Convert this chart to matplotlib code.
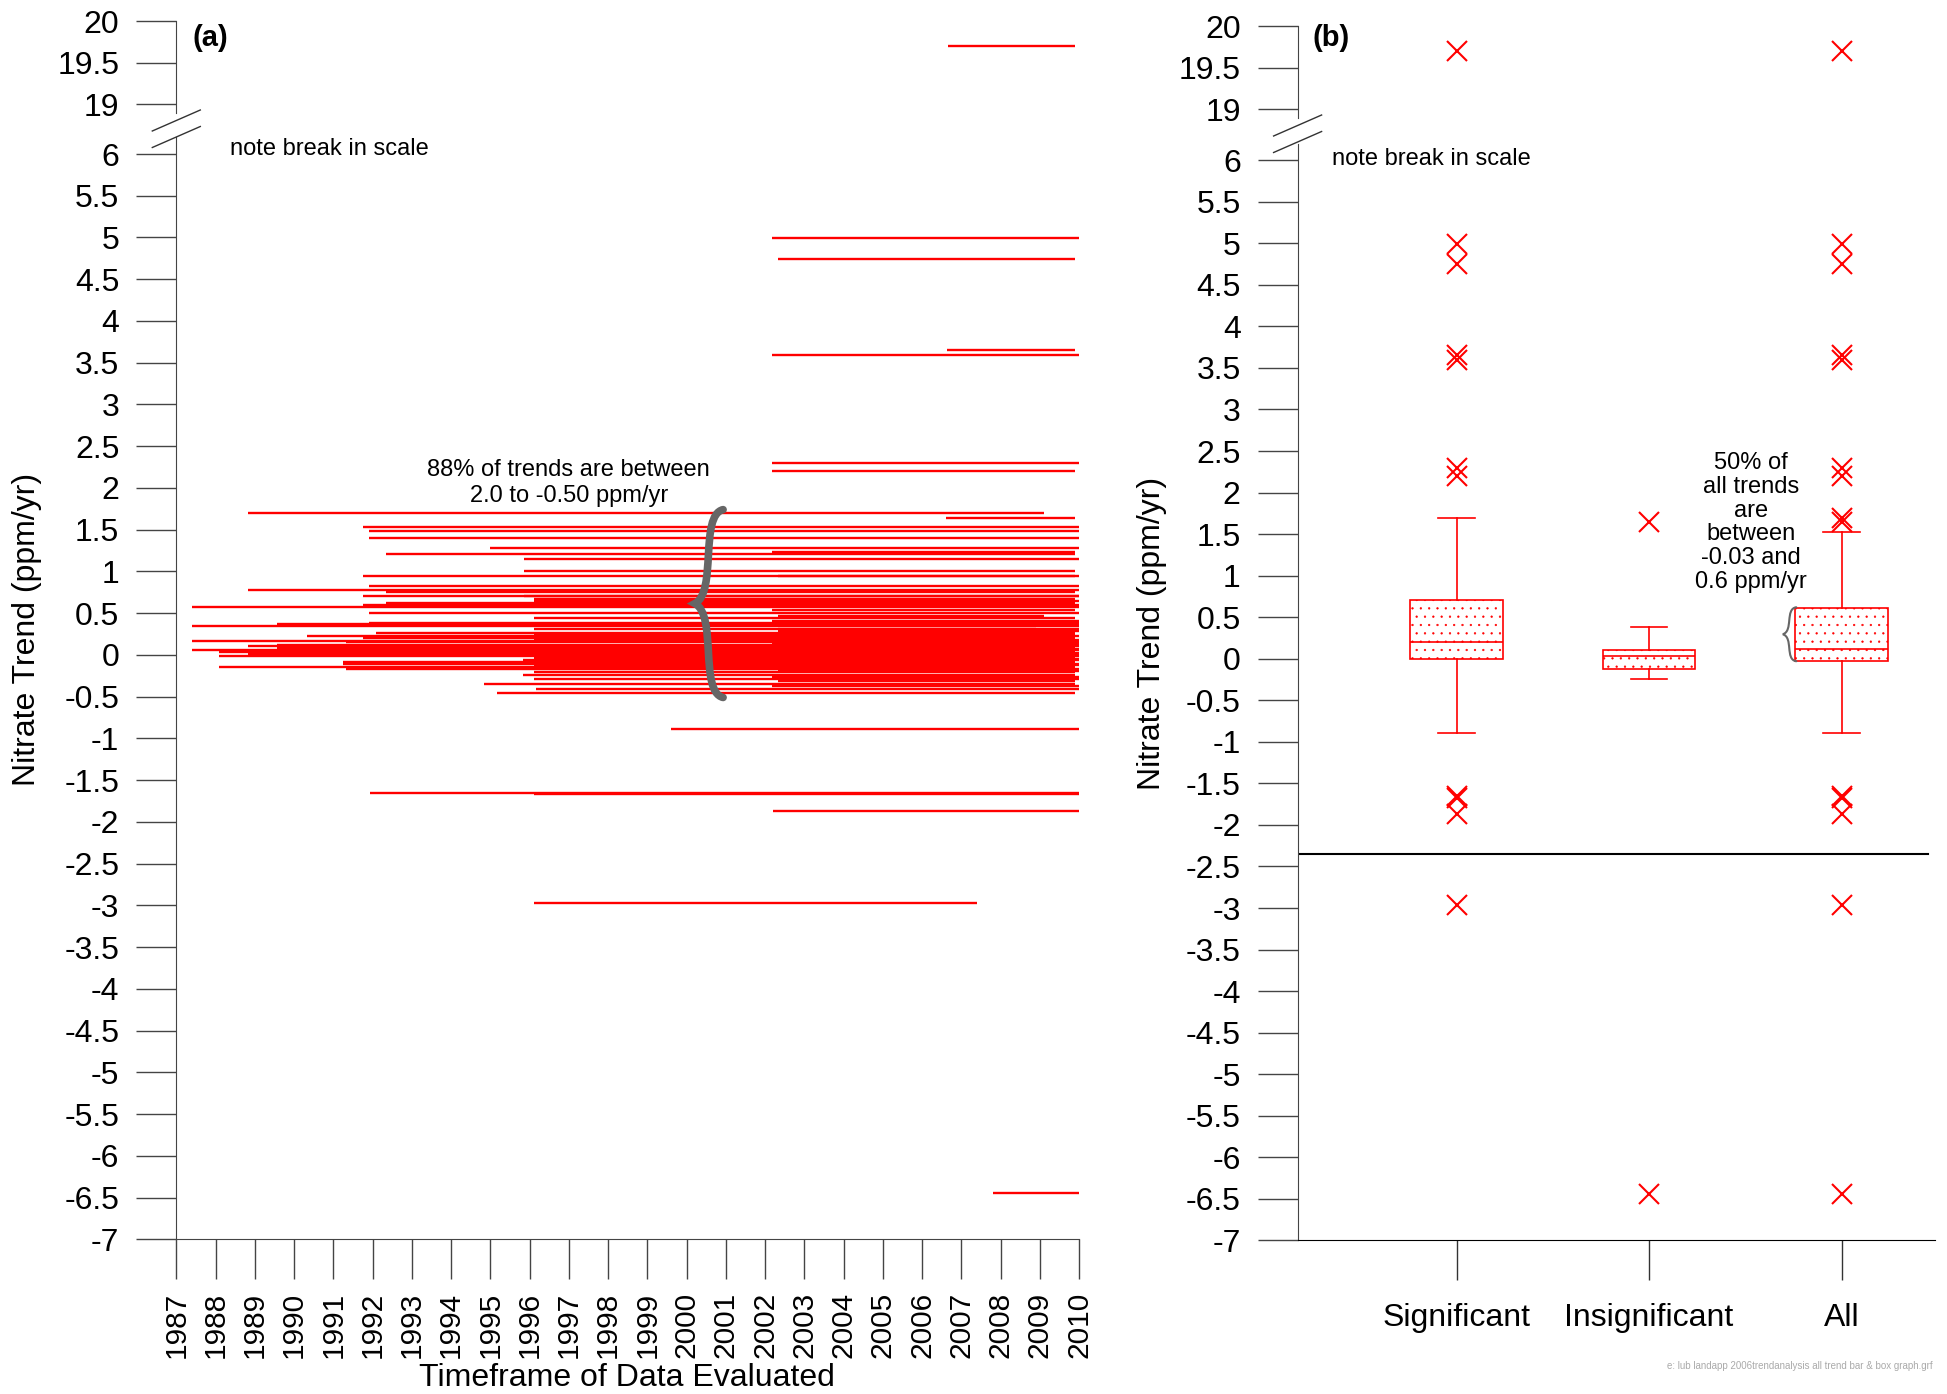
import numpy as np
import matplotlib.pyplot as plt
from matplotlib.lines import Line2D
from matplotlib.path import Path
from matplotlib.patches import PathPatch

plt.rcParams['font.family'] = ['Liberation Sans', 'DejaVu Sans']
plt.rcParams['axes.unicode_minus'] = False
plt.rcParams['hatch.linewidth'] = 0.4

W, H = 1947, 1394

# ---- panel (a): one trend line per well, start year -> end year at trend value
start_year = [2006.65, 2002.17, 2002.34, 2006.64, 2002.17, 2002.17, 2002.17, 1988.83, 2006.60, 1991.75,
              1991.90, 1991.90, 1995.00, 2002.17, 1992.35, 1995.85, 1995.85, 1991.75, 2002.33, 1991.90,
              1988.83, 1992.35, 1995.85, 1991.75, 1996.10, 1996.10, 1992.35, 1991.75, 1987.41, 2002.17,
              1991.90, 2002.33, 1996.10, 2002.17, 1991.90, 1989.57, 1995.83, 1987.41, 2002.33, 1996.10,
              2002.33, 1992.10, 1996.10, 1990.34, 2002.17, 1991.75, 1996.10, 1987.41, 1991.33, 2002.17,
              1989.57, 1988.83, 1996.10, 1989.57, 2002.33, 1987.41, 1988.09, 1996.10, 1988.83, 2002.17,
              1988.09, 1996.10, 2002.33, 1995.83, 1991.25, 2002.17, 1991.25, 1996.10, 1988.09, 1992.35,
              1991.33, 2002.33, 1996.10, 1995.83, 2002.17, 1996.10, 2002.33, 1994.85, 2002.17, 1996.17,
              1995.18, 1999.60, 1991.94, 1996.10, 2002.19, 1996.10, 2007.80]
end_year = [2009.9, 2010.0, 2009.9, 2009.9, 2010.0, 2010.0, 2009.9, 2009.1, 2009.9, 2010.0,
            2010.0, 2010.0, 2010.0, 2009.9, 2009.9, 2010.0, 2009.9, 2010.0, 2009.9, 2010.0,
            2010.0, 2009.9, 2010.0, 2010.0, 2009.9, 2010.0, 2009.9, 2010.0, 2010.0, 2009.9,
            2010.0, 2009.1, 2009.9, 2010.0, 2010.0, 2010.0, 2009.9, 2010.0, 2008.9, 2010.0,
            2010.0, 2009.9, 2009.9, 2010.0, 2009.9, 2009.9, 2010.0, 2010.0, 2010.0, 2010.0,
            2009.9, 2010.0, 2009.9, 2009.9, 2010.0, 2010.0, 2009.9, 2010.0, 2010.0, 2009.9,
            2010.0, 2009.9, 2010.0, 2010.0, 2009.9, 2009.9, 2010.0, 2010.0, 2009.9, 2009.1,
            2010.0, 2010.0, 2009.9, 2009.9, 2010.0, 2010.0, 2009.9, 2009.9, 2010.0, 2010.0,
            2009.9, 2010.0, 2010.0, 2010.0, 2010.0, 2007.40, 2010.0]
trend = [19.70, 4.99, 4.74, 3.65, 3.59, 2.30, 2.20, 1.70, 1.64, 1.53,
         1.48, 1.40, 1.28, 1.23, 1.21, 1.15, 1.00, 0.95, 0.94, 0.83,
         0.78, 0.755, 0.71, 0.70, 0.67, 0.65, 0.62, 0.595, 0.57, 0.54,
         0.505, 0.47, 0.44, 0.41, 0.38, 0.375, 0.36, 0.345, 0.31, 0.305,
         0.285, 0.258, 0.24, 0.226, 0.21, 0.198, 0.18, 0.166, 0.155, 0.135,
         0.118, 0.106, 0.09, 0.08, 0.065, 0.058, 0.04, 0.025, 0.015, 0.0,
         -0.013, -0.035, -0.05, -0.065, -0.08, -0.095, -0.112, -0.125, -0.14, -0.155,
         -0.168, -0.19, -0.21, -0.24, -0.265, -0.29, -0.315, -0.343, -0.37, -0.41,
         -0.455, -0.89, -1.65, -1.67, -1.87, -2.97, -6.45]
years = list(range(1987, 2011))

# ---- panel (b): box plot statistics
groups = ['Significant', 'Insignificant', 'All']
q1 = [0.0, -0.12, -0.03]
median = [0.20, 0.03, 0.12]
q3 = [0.71, 0.10, 0.61]
whisker_lo = [-0.89, -0.24, -0.89]
whisker_hi = [1.70, 0.38, 1.53]
fliers = [
    [19.7, 4.99, 4.75, 3.65, 3.60, 2.30, 2.20, -1.65, -1.67, -1.87, -2.96],
    [1.64, -6.44],
    [19.7, 4.99, 4.75, 3.65, 3.60, 2.30, 2.20, 1.70, 1.64, -1.65, -1.67, -1.87, -2.96, -6.44],
]

lo_ticks = np.arange(-7, 6.01, 0.5)
hi_ticks = [19, 19.5, 20]

fig = plt.figure(figsize=(W / 100, H / 100), dpi=100)

a_lo = fig.add_axes([0.09055, 0.1110, 0.4637, 0.7905])
a_hi = fig.add_axes([0.09055, 0.91922, 0.4637, 0.06564])
b_lo = fig.add_axes([0.66646, 0.11019, 0.3272, 0.7868])
b_hi = fig.add_axes([0.66646, 0.91564, 0.3272, 0.06564])


def style(ax, lo):
    ax.spines['top'].set_visible(False)
    ax.spines['right'].set_visible(False)
    ax.spines['left'].set_color('#444')
    ax.tick_params(axis='y', length=29, width=1, color='#444', pad=12, labelsize=23)
    if lo:
        ax.set_ylim(-7, 6.2)
        ax.set_yticks(lo_ticks)
        ax.set_yticklabels([f'{v:g}' for v in lo_ticks])
        ax.spines['bottom'].set_color('#444')
    else:
        ax.set_ylim(18.9, 20)
        ax.set_yticks(hi_ticks)
        ax.set_yticklabels([f'{v:g}' for v in hi_ticks])
        ax.spines['bottom'].set_visible(False)


# panel (a)
for ax in (a_lo, a_hi):
    ax.hlines(trend, start_year, end_year, colors='red', lw=1.7)
    ax.set_xlim(1987, 2010)
style(a_lo, True)
style(a_hi, False)
a_hi.tick_params(axis='x', bottom=False, labelbottom=False)
a_lo.set_xticks(years)
a_lo.set_xticklabels([str(y) for y in years], rotation=90)
a_lo.tick_params(axis='x', length=29, width=1, color='#444', pad=9, labelsize=21.5)

a_lo.text(1997.0, 2.06, '88% of trends are between\n2.0 to -0.50 ppm/yr',
          ha='center', va='center', fontsize=17)


def brace(ax, x, y_bot, y_top, hw, lw):
    ym = (y_bot + y_top) / 2
    h = y_top - y_bot
    verts = [(x + hw, y_top),
             (x - 0.7 * hw, y_top - 0.03 * h), (x + 0.6 * hw, ym + 0.06 * h), (x - hw, ym),
             (x + 0.6 * hw, ym - 0.06 * h), (x - 0.7 * hw, y_bot + 0.03 * h), (x + hw, y_bot)]
    codes = [Path.MOVETO] + [Path.CURVE4] * 6
    ax.add_patch(PathPatch(Path(verts, codes), fill=False, edgecolor='#666666',
                           lw=lw, capstyle='round', zorder=5))


brace(a_lo, 2000.57, -0.51, 1.74, 0.36, 5.5)

# panel (b)
stats = []
for i, g in enumerate(groups):
    stats.append(dict(label=g, q1=q1[i], med=median[i], q3=q3[i],
                      whislo=whisker_lo[i], whishi=whisker_hi[i], fliers=fliers[i]))
for ax in (b_lo, b_hi):
    ax.bxp(stats, positions=[1, 2, 3], widths=0.48, capwidths=0.19, patch_artist=True,
           boxprops=dict(facecolor='white', edgecolor='red', hatch='..', lw=1.2),
           whiskerprops=dict(color='red', lw=1.2), capprops=dict(color='red', lw=1.2),
           medianprops=dict(color='red', lw=1.2),
           flierprops=dict(marker='x', markeredgecolor='red', markersize=14, mew=1.5,
                           linestyle='none'))
    ax.set_xlim(0.174, 3.484)
style(b_lo, True)
style(b_hi, False)
b_hi.tick_params(axis='x', bottom=False, labelbottom=False)
b_lo.spines['bottom'].set_color('black')
b_lo.tick_params(axis='x', length=29, width=1, color='#333', pad=16, labelsize=23)
b_lo.axhline(-2.35, xmin=0, xmax=0.99, color='black', lw=1.5)
b_lo.text(2.53, 1.64, '50% of\nall trends\nare\nbetween\n-0.03 and\n0.6 ppm/yr',
          ha='center', va='center', fontsize=17, linespacing=1.1)
brace(b_lo, 2.73, -0.03, 0.62, 0.035, 1.5)


# scale-break marks across the y spines
def break_marks(x_px, y_px):
    for dy in (0, 16.5):
        fig.add_artist(Line2D([(x_px - 24) / W, (x_px + 24) / W],
                              [1 - (y_px + dy + 10.5) / H, 1 - (y_px + dy - 10.5) / H],
                              color='#333', lw=1))


break_marks(176.3, 120.5)
break_marks(1297.6, 125.5)

fig.text(0.1180, 0.8931, 'note break in scale', ha='left', va='center', fontsize=17)
fig.text(0.6843, 0.8860, 'note break in scale', ha='left', va='center', fontsize=17)
fig.text(0.09885, 0.9724, '(a)', ha='left', va='center', fontsize=21, fontweight='bold')
fig.text(0.6741, 0.9724, '(b)', ha='left', va='center', fontsize=21, fontweight='bold')
fig.text(0.0140, 0.5484, 'Nitrate Trend (ppm/yr)', rotation=90, ha='center', va='center', fontsize=23)
fig.text(0.5918, 0.5457, 'Nitrate Trend (ppm/yr)', rotation=90, ha='center', va='center', fontsize=23)
fig.text(0.3220, 0.0115, 'Timeframe of Data Evaluated', ha='center', va='center', fontsize=23)
fig.text(0.9928, 0.0201, 'e: lub landapp 2006trendanalysis all trend bar & box graph.grf',
         ha='right', va='center', fontsize=7, color='#aaaaaa')

fig.savefig('out.png', dpi=100)
